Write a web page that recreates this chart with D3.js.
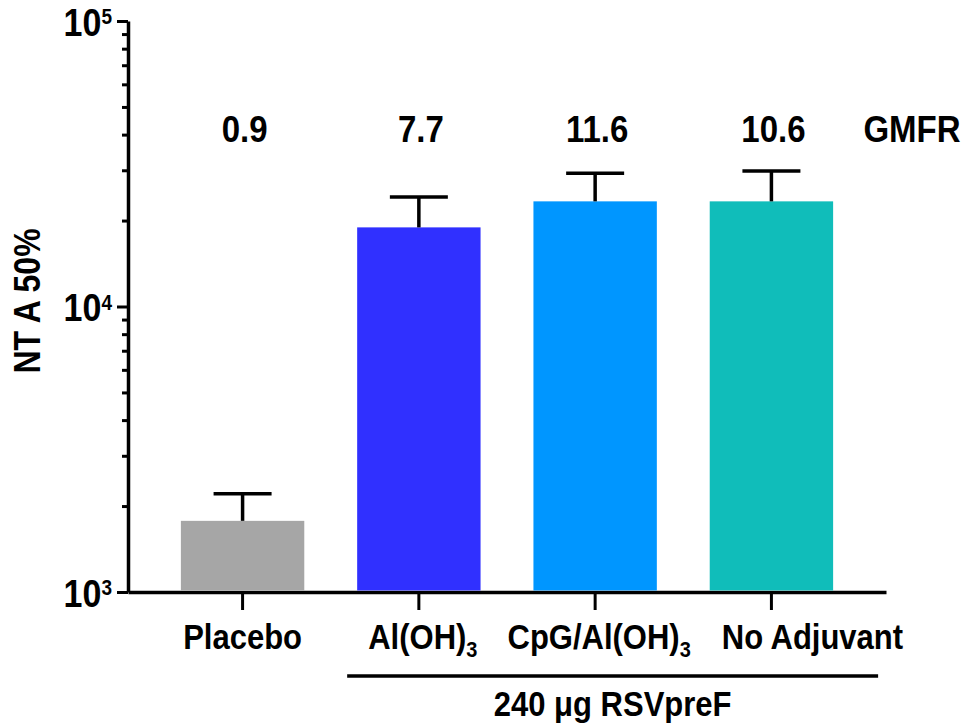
<!DOCTYPE html>
<html lang="en">
<head>
    <meta charset="UTF-8">
    <title>NT A 50%</title>
    <script src="https://cdn.jsdelivr.net/npm/d3@7/dist/d3.min.js"></script>
    <style>
        body { margin: 0; background: #fff; }
        text { font-family: Arial, "Liberation Sans", sans-serif; font-weight: bold; fill: #000; }
    </style>
</head>
<body>
<script>
    var width = 966
    var height = 724

    // data
    var categories = ['Placebo', 'Al(OH)3', 'CpG/Al(OH)3', 'No Adjuvant']
    var means = [1775, 18930, 23350, 23350]
    var upper = [2208, 24180, 29290, 29840]
    var gmfr = ['0.9', '7.7', '11.6', '10.6']
    var colors = ['#a6a6a6', '#3030ff', '#0096ff', '#10bdba']
    var majorTicks = [1e3, 1e4, 1e5]

    var stretch = 1.13 // text in the figure is a bit taller than plain Arial

    function at(px, py) {
        return 'translate(' + px + ',' + py + ') scale(1,' + stretch + ')'
    }

    var svg = d3.select('body')
        .append('svg')
        .attr('width', width)
        .attr('height', height)

    var x = d3.scaleBand()
        .domain(categories)
        .range([128, 886])
        .paddingInner(0.3)
        .paddingOuter(0.3)

    var y = d3.scaleLog()
        .domain([1e3, 1e5])
        .range([592, 21])

    // minor ticks
    var minor = []
    ;[1e3, 1e4].forEach(function (d) {
        for (var k = 2; k <= 9; k++) minor.push(d * k)
    })

    svg.append('g')
        .attr('transform', 'translate(128,0)')
        .call(d3.axisLeft(y).tickValues(minor).tickSize(6).tickSizeOuter(0).tickFormat(''))
        .call(function (g) {
            g.select('.domain').remove()
            g.selectAll('line').attr('stroke', '#000').attr('stroke-width', 3)
        })

    var yAxis = svg.append('g')
        .attr('transform', 'translate(128,0)')
        .call(d3.axisLeft(y).tickValues(majorTicks).tickSize(11).tickSizeOuter(0).tickFormat(''))
    yAxis.select('.domain').attr('stroke', '#000').attr('stroke-width', 3.5)
    yAxis.selectAll('line').attr('stroke', '#000').attr('stroke-width', 3)

    // major labels 10^n
    var lab = yAxis.selectAll('.tick').append('text')
        .attr('transform', at(-16, 14))
        .attr('text-anchor', 'end')
        .style('font-size', '34px')
    lab.append('tspan').text('10')
    lab.append('tspan')
        .attr('dy', -10)
        .style('font-size', '19px')
        .text(function (d) { return Math.round(Math.log10(d)) })

    // x axis
    var xAxis = svg.append('g')
        .attr('transform', 'translate(0,592)')
        .call(d3.axisBottom(x).tickSize(18).tickSizeOuter(0).tickFormat(''))
    xAxis.select('.domain').attr('stroke', '#000').attr('stroke-width', 3.5)
    xAxis.selectAll('line').attr('stroke', '#000').attr('stroke-width', 3)

    // bars
    svg.selectAll('rect.bar')
        .data(categories)
        .enter()
        .append('rect')
        .attr('class', 'bar')
        .attr('x', function (d) { return x(d) })
        .attr('width', x.bandwidth())
        .attr('y', function (d, i) { return y(means[i]) })
        .attr('height', function (d, i) { return y(1e3) - y(means[i]) - 1.5 })
        .attr('fill', function (d, i) { return colors[i] })

    // error bars
    var err = svg.selectAll('g.err')
        .data(categories)
        .enter()
        .append('g')
        .attr('class', 'err')
        .attr('transform', function (d) { return 'translate(' + (x(d) + x.bandwidth() / 2) + ',0)' })
    err.append('line')
        .attr('y1', function (d, i) { return y(means[i]) })
        .attr('y2', function (d, i) { return y(upper[i]) })
        .attr('stroke', '#000').attr('stroke-width', 3.5)
    err.append('line')
        .attr('x1', -29).attr('x2', 29)
        .attr('y1', function (d, i) { return y(upper[i]) })
        .attr('y2', function (d, i) { return y(upper[i]) })
        .attr('stroke', '#000').attr('stroke-width', 3.5)

    // GMFR values
    svg.selectAll('text.gmfr')
        .data(categories)
        .enter()
        .append('text')
        .attr('class', 'gmfr')
        .attr('transform', function (d) { return at(x(d) + x.bandwidth() / 2 + 2, 142) })
        .attr('text-anchor', 'middle')
        .style('font-size', '33px')
        .text(function (d, i) { return gmfr[i] })
    svg.append('text')
        .attr('transform', at(912, 142))
        .attr('text-anchor', 'middle')
        .style('font-size', '33px')
        .text('GMFR')

    // category labels, with subscript 3 (last label sits right of its tick in the figure)
    var cat = svg.selectAll('text.cat')
        .data(categories)
        .enter()
        .append('text')
        .attr('class', 'cat')
        .attr('transform', function (d, i) {
            var nudge = i === categories.length - 1 ? 41 : (/\)3$/.test(d) ? 4 : 0)
            return at(x(d) + x.bandwidth() / 2 + nudge, 649)
        })
        .attr('text-anchor', 'middle')
        .style('font-size', '31px')
    cat.append('tspan').text(function (d) { return /\)3$/.test(d) ? d.slice(0, -1) : d })
    cat.filter(function (d) { return /\)3$/.test(d) })
        .append('tspan')
        .attr('dy', 7)
        .style('font-size', '20px')
        .text('3')

    // group bracket
    var grp = [categories[1], categories[3]]
    var gx0 = x(grp[0]) - 10
    var gx1 = x(grp[1]) + x.bandwidth() + 45
    svg.append('line')
        .attr('x1', gx0)
        .attr('x2', gx1)
        .attr('y1', 676).attr('y2', 676)
        .attr('stroke', '#000').attr('stroke-width', 3.5)
    svg.append('text')
        .attr('transform', at((gx0 + gx1) / 2, 716))
        .attr('text-anchor', 'middle')
        .style('font-size', '31px')
        .text('240 \u03bcg RSVpreF')

    // y title
    svg.append('text')
        .attr('transform', 'translate(40,301) rotate(-90) scale(1,' + stretch + ')')
        .attr('text-anchor', 'middle')
        .style('font-size', '32px')
        .text('NT A 50%')
</script>
</body>
</html>
